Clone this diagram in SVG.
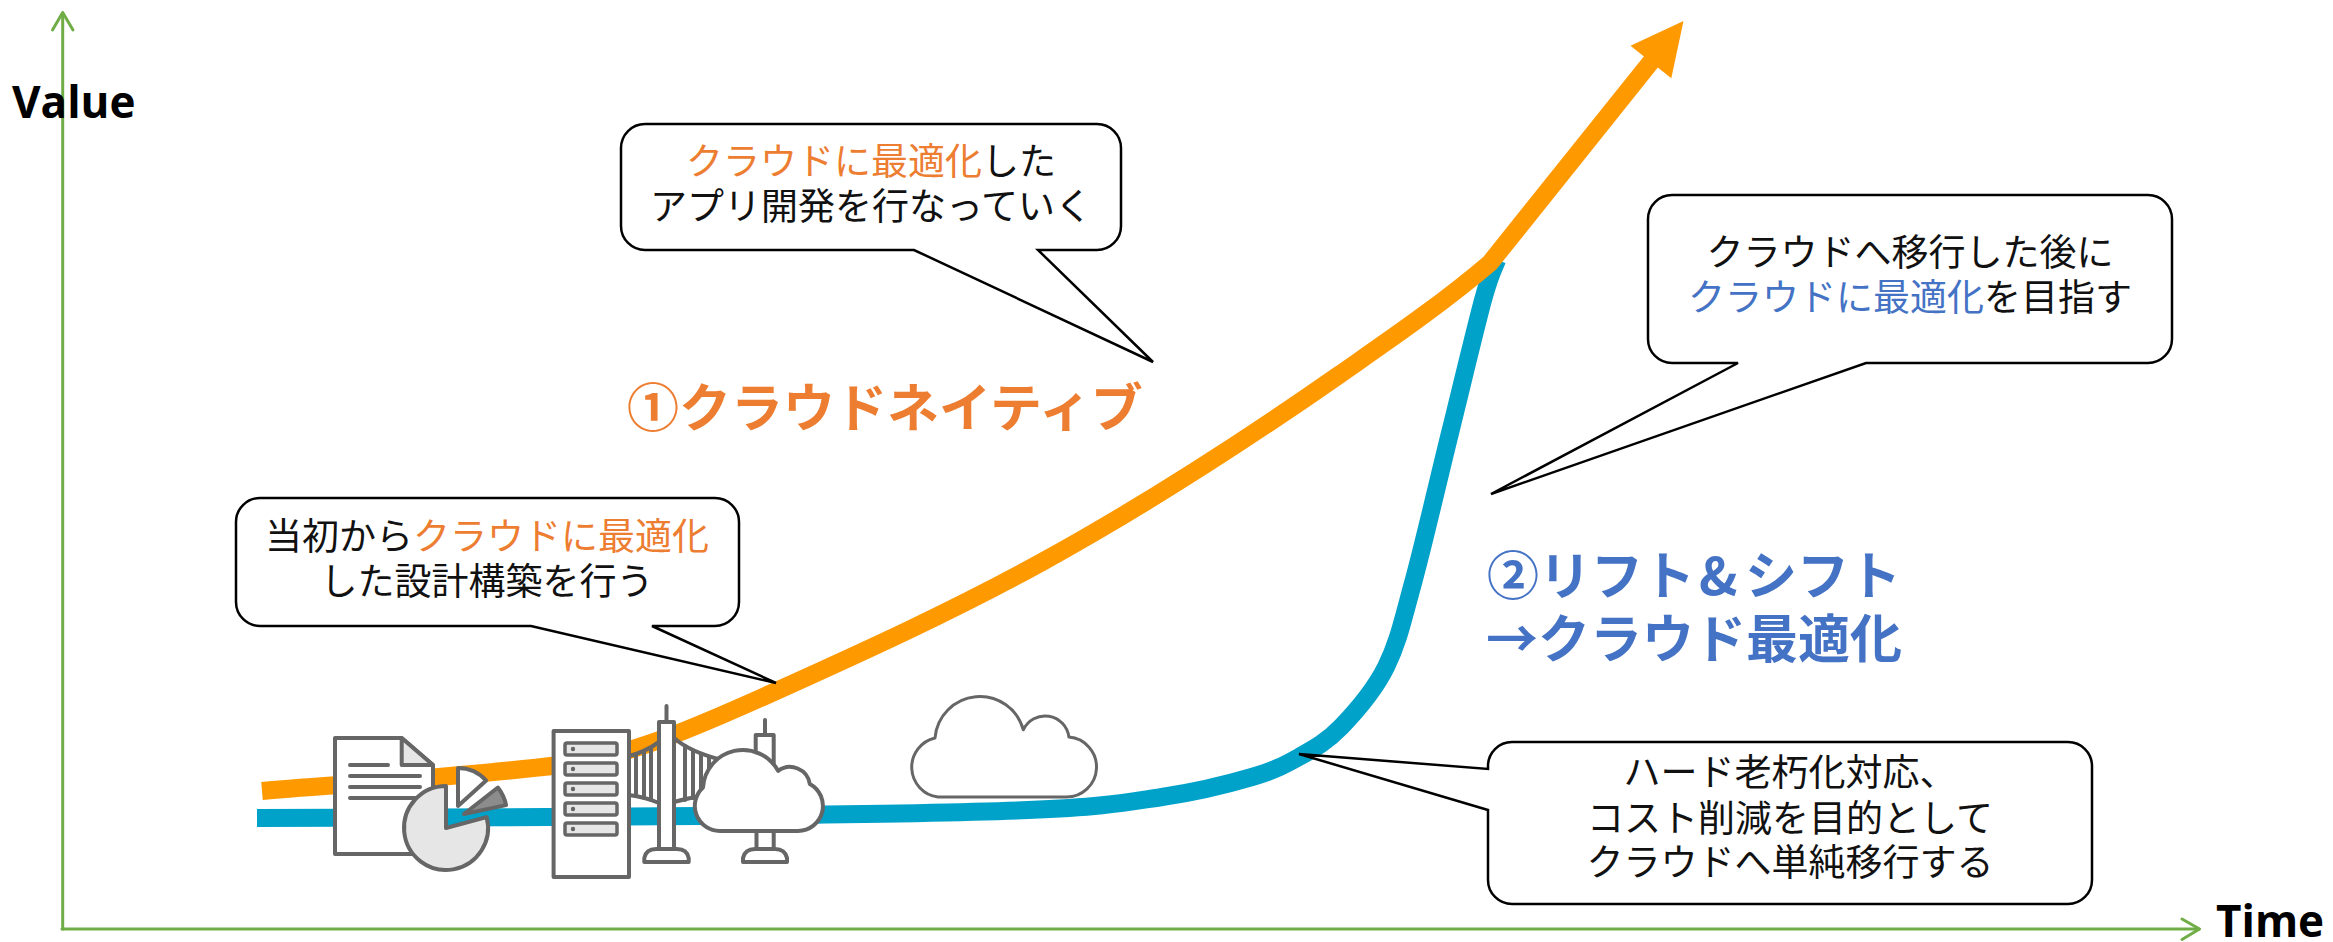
<svg xmlns="http://www.w3.org/2000/svg" width="2333" height="942" viewBox="0 0 2333 942">
<defs>
<style>
.axis{stroke:#70AD47;stroke-width:3;fill:none;stroke-linecap:round;stroke-linejoin:round}
.ax-label{font-family:"Open Sans","DejaVu Sans",sans-serif;font-weight:700;font-size:44px;fill:#000}
.jp{font-family:"Noto Sans CJK JP",sans-serif;font-size:37px;fill:#111;text-anchor:middle}
.big{font-family:"Noto Sans CJK JP",sans-serif;font-size:52px;font-weight:700}
.or{fill:#ED7D31}
.bl{fill:#4472C4}
.bubble{fill:#fff;stroke:#000;stroke-width:2.5;stroke-linejoin:miter}
.ic{stroke:#666;stroke-width:4;fill:#fff;stroke-linejoin:round;stroke-linecap:round}
.ic-l{fill:#E6E6E6}
.ln{stroke:#666;stroke-width:4;fill:none;stroke-linecap:round}
.slot{stroke:#666;stroke-width:3.5;fill:#E6E6E6}
.dot{fill:#666}
.curve{fill:none;stroke-width:18}
</style>
</defs>
<rect width="2333" height="942" fill="#fff"/>

<!-- axes -->
<g id="axes">
<path class="axis" d="M62.7,929 V13"/>
<path class="axis" d="M52.5,30 L62.7,12.5 L73,30"/>
<path class="axis" d="M62,929 H2199"/>
<path class="axis" d="M2182,919 L2199.5,929 L2182,939.5"/>
<text class="ax-label" x="12" y="118">Value</text>
<text class="ax-label" x="2216" y="937">Time</text>
</g>

<!-- growth curves -->
<g id="connectors">
<path id="curve-lift-shift" class="curve" stroke="#00A2C9" d="M257,818 C331,818 571.5,817.3 700,816 C828.5,814.7 951,813.2 1028,810 C1105,806.8 1124.7,802.5 1162,797 C1199.3,791.5 1229.2,783.7 1252,777 C1274.8,770.3 1284.2,765.3 1299,757 C1313.8,748.7 1326.5,742 1341,727 C1355.5,712 1374,691 1386,667 C1398,643 1402.3,622 1413,583 C1423.7,544 1438.3,480.2 1450,433 C1461.7,385.8 1475.2,328.8 1483,300 C1490.8,271.2 1494.7,266.7 1497,260"/>
<path id="curve-native" class="curve" stroke="#FF9900" stroke-linejoin="round" d="M262,791 C361,782.6 460,777 560,765 C631,756.5 703,724 774,692 C863,651.8 953,611 1042,562 C1141,507.5 1240,444 1339,375 C1389,340 1440,305.5 1490,263 L1658,53"/>
<polygon fill="#FF9900" points="1683.5,21 1630.5,45.8 1671.3,78.3"/>
</g>

<!-- on-premise icons -->
<g id="document">
<path class="ic" d="M335,738 H401.7 L433,765 V854 H335 Z"/>
<path class="ic ic-l" d="M401.7,738 V765 H433 Z"/>
<path class="ln" d="M350,765 H388 M350,776 H420 M350,787 H420 M350,798 H420"/>
</g>
<g id="chart">
<path class="ic ic-l" d="M446,828 V786 A42,42 0 1,0 486.6,817.1 Z"/>
<path class="ic" d="M458,806 V768 A38,38 0 0,1 486.2,780.6 Z"/>
<path class="ic" style="fill:#8C8C8C" d="M464,814 L497.9,787.5 A43,43 0 0,1 506.1,805.1 Z"/>
</g>
<g id="server">
<rect class="ic" x="553.6" y="731" width="75.4" height="146"/>
<rect class="slot" x="565" y="743" width="52" height="12" rx="2"/>
<rect class="slot" x="565" y="763" width="52" height="12" rx="2"/>
<rect class="slot" x="565" y="783" width="52" height="12" rx="2"/>
<rect class="slot" x="565" y="803" width="52" height="12" rx="2"/>
<rect class="slot" x="565" y="823" width="52" height="12" rx="2"/>
<circle class="dot" cx="573" cy="749" r="2.2"/>
<circle class="dot" cx="573" cy="769" r="2.2"/>
<circle class="dot" cx="573" cy="789" r="2.2"/>
<circle class="dot" cx="573" cy="809" r="2.2"/>
<circle class="dot" cx="573" cy="829" r="2.2"/>
</g>
<g id="bridge">
<path class="ln" d="M629,756 Q645,752 659,742 M629,795 Q645,797 659,803"/>
<path class="ln" d="M674,738 Q690,752 722,760 M674,802 Q688,798 702,796"/>
<path class="ln" d="M636,755 V796 M644,752 V798 M651,748 V800 M685,746 V800 M693,751 V798 M701,754 V797 M709,757 V797 M716,759 V797"/>
<line class="ln" x1="666.5" y1="706" x2="666.5" y2="722"/>
<rect class="ic" x="659" y="722" width="15" height="128"/>
<path class="ic" d="M644.3,862 V858 Q646,849 656,849 H677 Q687,849 688.7,858 V862 Z"/>
</g>
<g id="skyline-cloud">
<line class="ln" x1="765" y1="720" x2="765" y2="735"/>
<rect class="ic" x="755.7" y="735" width="18" height="70"/>
<path class="ic" d="M720,831 A25,25 0 0,1 703,787.5 A40,40 0 0,1 778.1,770.9 A20,20 0 0,1 809.8,784 A25,25 0 0,1 798,831 Z"/>
<rect class="ic" x="756.5" y="831" width="17.2" height="19"/>
<path class="ic" d="M743,862 V858 Q745,849 755,849 H775 Q785,849 787,858 V862 Z"/>
</g>
<g id="cloud">
<path class="ic" style="stroke-width:3" d="M938,797 A30,30 0 0,1 935,738 A45,45 0 0,1 1023.3,729.8 A24,24 0 0,1 1068.9,737.1 A30,30 0 0,1 1066,797 Z"/>
</g>

<!-- callouts -->
<g id="callout-native-app">
<path class="bubble" d="M645,124 H1097 A24,24 0 0 1 1121,148 V226 A24,24 0 0 1 1097,250 H1038 L1153,362 L914,250 H645 A24,24 0 0 1 621,226 V148 A24,24 0 0 1 645,124 Z"/>
<text class="jp" x="871" y="175"><tspan class="or">クラウドに最適化</tspan>した</text>
<text class="jp" x="871" y="220">アプリ開発を行なっていく</text>
</g>
<g id="callout-native-design">
<path class="bubble" d="M260,498 H715 A24,24 0 0 1 739,522 V602 A24,24 0 0 1 715,626 H652 L776,683 L531,626 H260 A24,24 0 0 1 236,602 V522 A24,24 0 0 1 260,498 Z"/>
<text class="jp" x="487" y="550">当初から<tspan class="or">クラウドに最適化</tspan></text>
<text class="jp" x="487" y="595">した設計構築を行う</text>
</g>
<g id="callout-optimize">
<path class="bubble" d="M1672,195 H2148 A24,24 0 0 1 2172,219 V339 A24,24 0 0 1 2148,363 H1866 L1491,494 L1738,363 H1672 A24,24 0 0 1 1648,339 V219 A24,24 0 0 1 1672,195 Z"/>
<text class="jp" x="1910" y="266">クラウドへ移行した後に</text>
<text class="jp" x="1910" y="311"><tspan class="bl">クラウドに最適化</tspan>を目指す</text>
</g>
<g id="callout-migrate">
<path class="bubble" d="M1512,742 H2068 A24,24 0 0 1 2092,766 V880 A24,24 0 0 1 2068,904 H1512 A24,24 0 0 1 1488,880 V810 L1299,754 L1488,769 V766 A24,24 0 0 1 1512,742 Z"/>
<text class="jp" x="1790" y="786">ハード老朽化対応、</text>
<text class="jp" x="1790" y="832">コスト削減を目的として</text>
<text class="jp" x="1790" y="876">クラウドへ単純移行する</text>
</g>

<!-- path titles -->
<g id="label-native">
<text class="big or" x="627" y="427">①クラウドネイティブ</text>
</g>
<g id="label-lift-shift">
<text class="big bl" y="595"><tspan x="1487">②リフト</tspan><tspan x="1699">&amp;</tspan><tspan x="1745">シフト</tspan></text>
<text class="big bl" x="1486" y="658">→クラウド最適化</text>
</g>
</svg>
